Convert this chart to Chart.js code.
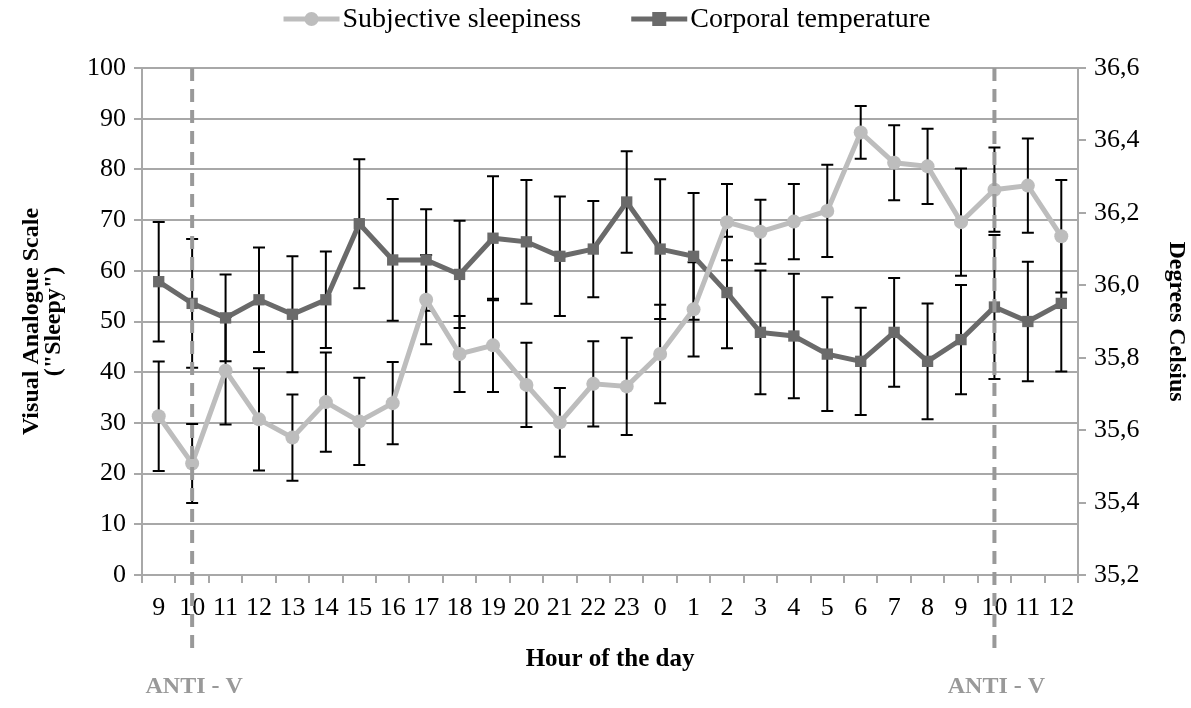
<!DOCTYPE html>
<html>
<head>
<meta charset="utf-8">
<script src="https://cdn.jsdelivr.net/npm/chart.js@4.4.1/dist/chart.umd.min.js"></script>
<style>
  body { margin: 0; background: #fff; }
  #wrap { width: 1191px; height: 708px; }
</style>
</head>
<body>
<div id="wrap"><canvas id="myChart" width="1191" height="708"></canvas></div>
<script>
// hour labels along the x axis
const hours = ['9','10','11','12','13','14','15','16','17','18','19','20','21','22','23','0','1','2','3','4','5','6','7','8','9','10','11','12'];

// subjective sleepiness (VAS, left axis) and its error
const sleepiness = [31.3, 22.0, 40.3, 30.7, 27.1, 34.1, 30.3, 33.9, 54.3, 43.6, 45.3, 37.5, 30.1, 37.7, 37.2, 43.6, 52.4, 69.6, 67.7, 69.7, 71.8, 87.3, 81.3, 80.6, 69.6, 76.0, 76.8, 66.8];
const sleepinessErr = [10.8, 7.8, 10.6, 10.1, 8.5, 9.8, 8.6, 8.1, 8.8, 7.5, 9.2, 8.3, 6.8, 8.4, 9.6, 9.7, 9.3, 7.5, 6.3, 7.4, 9.1, 5.2, 7.4, 7.4, 10.6, 8.3, 9.3, 11.1];

// corporal temperature (Celsius, right axis) and its error
const temperature = [36.01, 35.95, 35.91, 35.96, 35.92, 35.96, 36.17, 36.07, 36.07, 36.03, 36.13, 36.12, 36.08, 36.10, 36.23, 36.10, 36.08, 35.98, 35.87, 35.86, 35.81, 35.79, 35.87, 35.79, 35.85, 35.94, 35.90, 35.95];
const temperatureErr = [0.165, 0.178, 0.12, 0.144, 0.16, 0.133, 0.178, 0.168, 0.14, 0.148, 0.171, 0.171, 0.165, 0.133, 0.14, 0.193, 0.175, 0.154, 0.171, 0.172, 0.157, 0.148, 0.15, 0.16, 0.151, 0.199, 0.165, 0.188];

// where the ANTI - V markers go (category index)
const antiVIdx = [1, 25];
const antiVLabel = 'ANTI - V';

const FONT = "'Liberation Serif', 'DejaVu Serif', serif";
const lightGray = '#bdbdbd';
const darkGray = '#6a6a6a';
const gridGray = '#a8a8a8';

// error bars, drawn under the lines
const errorBars = {
  id: 'errorBars',
  beforeDatasetsDraw(chart) {
    const ctx = chart.ctx;
    const x = chart.scales.x;
    ctx.save();
    ctx.strokeStyle = '#000';
    ctx.lineWidth = 2;
    chart.data.datasets.forEach((ds) => {
      const ys = chart.scales[ds.yAxisID];
      ds.data.forEach((v, i) => {
        const px = x.getPixelForValue(i);
        const top = ys.getPixelForValue(v + ds.errors[i]);
        const bot = ys.getPixelForValue(v - ds.errors[i]);
        ctx.beginPath();
        ctx.moveTo(px, top); ctx.lineTo(px, bot);
        ctx.moveTo(px - 6, top); ctx.lineTo(px + 6, top);
        ctx.moveTo(px - 6, bot); ctx.lineTo(px + 6, bot);
        ctx.stroke();
      });
    });
    ctx.restore();
  }
};

// dashed vertical lines, ANTI - V labels and the legend
const extras = {
  id: 'extras',
  afterDraw(chart) {
    const ctx = chart.ctx;
    const area = chart.chartArea;
    const x = chart.scales.x;
    ctx.save();
    ctx.strokeStyle = '#999';
    ctx.lineWidth = 4;
    ctx.setLineDash([13, 8]);
    antiVIdx.forEach((i) => {
      const px = x.getPixelForValue(i);
      ctx.beginPath();
      ctx.moveTo(px, area.top);
      ctx.lineTo(px, 653);
      ctx.stroke();
      ctx.fillStyle = '#999';
      ctx.font = 'bold 24px ' + FONT;
      ctx.textAlign = 'center';
      ctx.textBaseline = 'middle';
      ctx.fillText(antiVLabel, px + 2, 687);
    });
    ctx.setLineDash([]);

    // legend
    const items = chart.data.datasets.map((ds) => ({ text: ds.label, color: ds.borderColor, style: ds.pointStyle }));
    ctx.font = '28px ' + FONT;
    const sample = 56, gap = 3, itemGap = 50;
    let total = 0;
    items.forEach((it, k) => { total += sample + gap + ctx.measureText(it.text).width + (k ? itemGap : 0); });
    let cx = 607 - total / 2;
    const cy = 19;
    items.forEach((it) => {
      ctx.strokeStyle = it.color;
      ctx.fillStyle = it.color;
      ctx.lineWidth = 5;
      ctx.beginPath();
      ctx.moveTo(cx, cy); ctx.lineTo(cx + sample, cy);
      ctx.stroke();
      if (it.style === 'circle') {
        ctx.beginPath(); ctx.arc(cx + sample / 2, cy, 7, 0, Math.PI * 2); ctx.fill();
      } else {
        ctx.fillRect(cx + sample / 2 - 7, cy - 7, 14, 14);
      }
      ctx.fillStyle = '#000';
      ctx.textAlign = 'left';
      ctx.textBaseline = 'middle';
      ctx.fillText(it.text, cx + sample + gap, cy + 1);
      cx += sample + gap + ctx.measureText(it.text).width + itemGap;
    });
    ctx.restore();
  }
};

const ctx = document.getElementById('myChart').getContext('2d');

const chart = new Chart(ctx, {
  type: 'line',
  data: {
    labels: hours,
    datasets: [{
      label: 'Subjective sleepiness',
      data: sleepiness,
      errors: sleepinessErr,
      yAxisID: 'y',
      borderColor: lightGray,
      backgroundColor: lightGray,
      borderWidth: 5,
      pointStyle: 'circle',
      pointRadius: 7,
      pointBorderWidth: 0
    }, {
      label: 'Corporal temperature',
      data: temperature,
      errors: temperatureErr,
      yAxisID: 'y1',
      borderColor: darkGray,
      backgroundColor: darkGray,
      borderWidth: 5,
      pointStyle: 'rect',
      pointRadius: 8,
      pointBorderWidth: 0
    }]
  },
  options: {
    responsive: false,
    animation: false,
    layout: { padding: { top: 68, left: 20, right: 0, bottom: 33 } },
    plugins: {
      legend: { display: false },
      tooltip: { enabled: false }
    },
    scales: {
      x: {
        type: 'category',
        offset: true,
        grid: { offset: true, drawOnChartArea: false, color: gridGray, lineWidth: 2, tickLength: 8 },
        border: { color: gridGray, width: 2 },
        ticks: { autoSkip: false, maxRotation: 0, color: '#000', padding: 10, font: { family: FONT, size: 26 } },
        title: { display: true, text: 'Hour of the day', color: '#000', padding: { top: 10, bottom: 0 }, font: { family: FONT, size: 25, weight: 'bold' } },
        afterFit(s) { s.height = 100; }
      },
      y: {
        position: 'left',
        min: 0, max: 100,
        ticks: { stepSize: 10, color: '#000', padding: 8, font: { family: FONT, size: 26 } },
        grid: { color: gridGray, lineWidth: 2, tickLength: 8 },
        border: { color: gridGray, width: 2 },
        title: { display: true, text: ['Visual Analogue Scale', '("Sleepy")'], color: '#000', padding: 0, font: { family: FONT, size: 24, weight: 'bold', lineHeight: 0.95 } },
        afterFit(s) { s.width = 122; }
      },
      y1: {
        position: 'right',
        min: 35.2, max: 36.6,
        ticks: { stepSize: 0.2, color: '#000', padding: 8, font: { family: FONT, size: 26 },
          callback: (v) => Number(v).toFixed(1).replace('.', ',') },
        grid: { drawOnChartArea: false, color: gridGray, lineWidth: 2, tickLength: 8 },
        border: { color: gridGray, width: 2 },
        title: { display: true, text: 'Degrees Celsius', color: '#000', padding: 0, font: { family: FONT, size: 24, weight: 'bold' } },
        afterFit(s) { s.width = 113; }
      }
    }
  },
  plugins: [errorBars, extras]
});
</script>
</body>
</html>
